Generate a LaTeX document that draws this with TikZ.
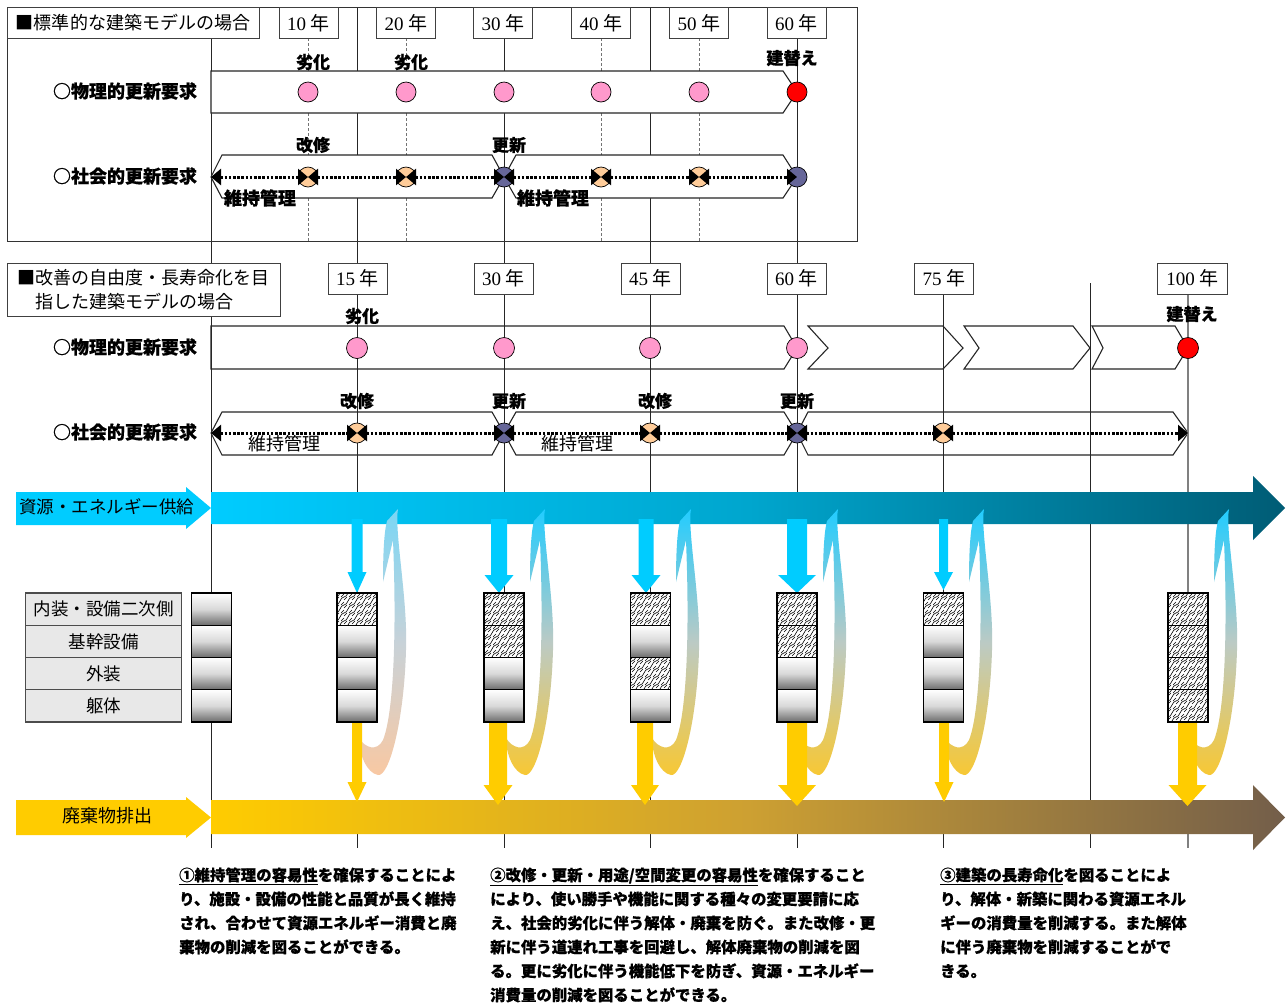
\documentclass[tikz,border=0pt]{standalone}
\usepackage{fontspec}
\setmainfont{Liberation Serif}
\newfontfamily\jp{Noto Sans CJK JP}[BoldFeatures={FakeBold=0.6}]
\usetikzlibrary{arrows.meta,patterns}
\definecolor{pinkc}{HTML}{FF99CC}
\definecolor{redc}{HTML}{FF0000}
\definecolor{orac}{HTML}{FFCC99}
\definecolor{bluc}{HTML}{666699}
\definecolor{cyac}{HTML}{00CCFF}
\definecolor{tealc}{HTML}{005C75}
\definecolor{tealm}{HTML}{00A6CE}
\definecolor{yelc}{HTML}{FFCC00}
\definecolor{yelm}{HTML}{CDA032}
\definecolor{brnc}{HTML}{735E4A}
\definecolor{rcTop}{HTML}{22CCFF}
\definecolor{rcMid}{HTML}{BCCAC4}
\definecolor{rcBot}{HTML}{F8C832}
\definecolor{rcTopA}{HTML}{7AD6F5}
\definecolor{rcMidA}{HTML}{C8D2D8}
\definecolor{rcBotA}{HTML}{F9C8A2}
\pgfdeclarepatternformonly{weave}{\pgfqpoint{-1pt}{-1pt}}{\pgfqpoint{9pt}{9pt}}{\pgfqpoint{8pt}{8pt}}{%
 \pgfsetlinewidth{0.6pt}%
 \pgfpathmoveto{\pgfqpoint{0pt}{0pt}}%
 \pgfpathcurveto{\pgfqpoint{4pt}{0pt}}{\pgfqpoint{4pt}{8pt}}{\pgfqpoint{8pt}{8pt}}%
 \pgfpathmoveto{\pgfqpoint{0pt}{5pt}}%
 \pgfpathcurveto{\pgfqpoint{1.5pt}{5pt}}{\pgfqpoint{1.5pt}{8pt}}{\pgfqpoint{3pt}{8pt}}%
 \pgfpathmoveto{\pgfqpoint{5pt}{0pt}}%
 \pgfpathcurveto{\pgfqpoint{6.5pt}{0pt}}{\pgfqpoint{6.5pt}{3pt}}{\pgfqpoint{8pt}{3pt}}%
 \pgfusepath{stroke}%
}
\newcommand\recyc[4]{%
\begin{scope}[shift={(#1,0)}]
\shade[top color=#2, bottom color=#4, middle color=#3]
 (41,509) .. controls (37,530) and (51,600) .. (49,650)
 .. controls (47,722) and (32,777) .. (21,775)
 .. controls (10,773) and (2,755) .. (2,738)
 .. controls (8,748) and (20,752) .. (26,740)
 .. controls (36,715) and (40,640) .. (36,540)
 -- (26,582) .. controls (26,555) and (27,532) .. (30,521) -- cycle;
\end{scope}}
\newcommand\varr[7]{%
 \fill[#1] ({#2-#6},#3) -- ({#2+#6},#3) -- ({#2+#6},#4) -- ({#2+#7},#4) -- (#2,#5) -- ({#2-#7},#4) -- ({#2-#6},#4) -- cycle;}
\newcommand\gcell[2]{\shadedraw[top color=white, bottom color=black!58, middle color=black!15, draw=black, line width=1.2pt] ({#1-20},#2) rectangle ({#1+20},{#2+32.25});}
\newcommand\hcell[2]{\fill[white] ({#1-20},#2) rectangle ({#1+20},{#2+32.25});
 \fill[pattern=weave] ({#1-20},#2) rectangle ({#1+20},{#2+32.25});
 \draw[black, line width=1.2pt] ({#1-20},#2) rectangle ({#1+20},{#2+32.25});}
\begin{document}
\begin{tikzpicture}[x=1pt,y=-1pt,
  band/.style={draw=black!85, line width=1.1pt, fill=white},
  vline/.style={black!85, line width=0.9pt},
  dline/.style={black!55, line width=0.9pt, dash pattern=on 3pt off 2pt},
  yrbox/.style={draw=black!75, line width=1pt, fill=white, minimum width=59pt, minimum height=31pt, inner sep=0pt, font=\fontsize{19}{20}\selectfont},
  lbox/.style={draw=black!75, line width=1pt, fill=white, inner sep=0pt, font=\jp\fontsize{18}{23.5}\selectfont},
  rowlab/.style={font=\jp\bfseries\fontsize{18}{20}\selectfont, inner sep=0pt},
  evlab/.style={font=\jp\bfseries\fontsize{17}{18}\selectfont, inner sep=0pt},
  ijlab/.style={font=\jp\fontsize{17.5}{20}\selectfont, inner sep=0pt},
  mk/.style={circle, draw=black, line width=0.7pt, minimum size=20pt, inner sep=0pt},
  dotarr/.style={line width=3pt, dash pattern=on 2.6pt off 1.6pt, {Triangle[length=10pt,width=16pt]}-{Triangle[length=10pt,width=16pt]}},
  legc/.style={draw=black!70, line width=1.2pt, fill=black!9, minimum width=156pt, minimum height=32.25pt, inner sep=0pt, font=\jp\fontsize{17.5}{20}\selectfont},
  btxt/.style={font=\jp\bfseries\fontsize{15.4}{16}\selectfont, anchor=base west, inner sep=0pt},
]
\useasboundingbox (0,0) rectangle (1287,1005);
\fill[white] (0,0) rectangle (1287,1005);

% lower bands (lines drawn over them)
\draw[band] (211,326) -- (784,326) -- (797,348) -- (784,369) -- (211,369) -- cycle;
\draw[band] (808,326) -- (943,326) -- (963,348) -- (943,369) -- (808,369) -- (828,348) -- cycle;
\draw[band] (964,326) -- (1073,326) -- (1090,348) -- (1073,369) -- (964,369) -- (979,348) -- cycle;
\draw[band] (1092,326) -- (1175,326) -- (1188,348) -- (1175,369) -- (1092,369) -- (1103,348) -- cycle;
\draw[band] (211,433) -- (222,412) -- (492,412) -- (504,433) -- (492,455) -- (222,455) -- cycle;
\draw[band] (504,433) -- (516,412) -- (784,412) -- (797,433) -- (784,455) -- (516,455) -- cycle;
\draw[band] (797,433) -- (808,412) -- (1173,412) -- (1188,433) -- (1173,455) -- (808,455) -- cycle;

% vertical lines
\foreach \x in {211,357,504,650,797} {\draw[vline] (\x,7) -- (\x,848);}
\draw[vline] (943,294) -- (943,848);
\draw[vline] (1090,283) -- (1090,848);
\draw[black!50, line width=1.5pt] (1188,294) -- (1188,848);
\foreach \x in {308,406,601,699} {\draw[dline] (\x,38) -- (\x,241);}

% top frame
\draw[black!80, line width=1pt] (7,7) rectangle (857,241);

% top bands
\draw[band] (211,71) -- (783,71) -- (797,92) -- (783,113) -- (211,113) -- cycle;
\draw[band] (211,177) -- (222,155) -- (492,155) -- (504,177) -- (492,198) -- (222,198) -- cycle;
\draw[band] (504,177) -- (516,155) -- (783,155) -- (797,177) -- (783,198) -- (516,198) -- cycle;

% boxes
\node[lbox, minimum width=252pt, minimum height=31pt] (lab1) at (133,22.5) {■標準的な建築モデルの場合};
\node[lbox, minimum width=273pt, minimum height=53pt, align=left] (lab2) at (143.5,289.5) {■改善の自由度・長寿命化を目\\\hspace*{1em}指した建築モデルの場合};
\node[yrbox] (ya10) at (308.5,23) {10 {\jp 年}};
\node[yrbox] (ya20) at (406,23) {20 {\jp 年}};
\node[yrbox] (ya30) at (503,23) {30 {\jp 年}};
\node[yrbox] (ya40) at (601,23) {40 {\jp 年}};
\node[yrbox] (ya50) at (699,23) {50 {\jp 年}};
\node[yrbox] (ya60) at (796.5,23) {60 {\jp 年}};
\node[yrbox] (yb15) at (357.5,278.5) {15 {\jp 年}};
\node[yrbox] (yb30) at (503.5,278.5) {30 {\jp 年}};
\node[yrbox] (yb45) at (650.5,278.5) {45 {\jp 年}};
\node[yrbox] (yb60) at (796.5,278.5) {60 {\jp 年}};
\node[yrbox] (yb75) at (944,278.5) {75 {\jp 年}};
\node[yrbox, minimum width=70pt] (yb100) at (1192.5,278.5) {100 {\jp 年}};

% row labels
\node[rowlab] (ra1) at (125,91) {○物理的更新要求};
\node[rowlab] (ra2) at (125,176) {○社会的更新要求};
\node[rowlab] (rb1) at (125,347) {○物理的更新要求};
\node[rowlab] (rb2) at (125,432) {○社会的更新要求};

% top markers
\node[mk, fill=pinkc] (tp1) at (308,92) {};
\node[mk, fill=pinkc] (tp2) at (406,92) {};
\node[mk, fill=pinkc] (tp3) at (504,92) {};
\node[mk, fill=pinkc] (tp4) at (601,92) {};
\node[mk, fill=pinkc] (tp5) at (699,92) {};
\node[mk, fill=redc] (tp6) at (797,92) {};
\coordinate (tsL) at (211,177);
\node[mk, fill=orac] (ts1) at (308,177) {};
\node[mk, fill=orac] (ts2) at (406,177) {};
\node[mk, fill=bluc] (ts3) at (504,177) {};
\node[mk, fill=orac] (ts4) at (601,177) {};
\node[mk, fill=orac] (ts5) at (699,177) {};
\node[mk, fill=bluc] (ts6) at (797,177) {};
\draw[dotarr] (tsL) -- (ts1.center);
\draw[dotarr] (ts1.center) -- (ts2.center);
\draw[dotarr] (ts2.center) -- (ts3.center);
\draw[dotarr] (ts3.center) -- (ts4.center);
\draw[dotarr] (ts4.center) -- (ts5.center);
\draw[dotarr] (ts5.center) -- (ts6.center);

% lower markers
\node[mk, fill=pinkc, minimum size=21pt] (bp1) at (357,348) {};
\node[mk, fill=pinkc, minimum size=21pt] (bp2) at (504,348) {};
\node[mk, fill=pinkc, minimum size=21pt] (bp3) at (650,348) {};
\node[mk, fill=pinkc, minimum size=21pt] (bp4) at (797,348) {};
\node[mk, fill=redc, minimum size=21pt] (bp5) at (1188,348) {};
\coordinate (bsL) at (211,433);
\coordinate (bsR) at (1188,433);
\node[mk, fill=orac] (bs1) at (357,433) {};
\node[mk, fill=bluc] (bs2) at (504,433) {};
\node[mk, fill=orac] (bs3) at (650,433) {};
\node[mk, fill=bluc] (bs4) at (797,433) {};
\node[mk, fill=orac] (bs5) at (943,433) {};
\draw[dotarr] (bsL) -- (bs1.center);
\draw[dotarr] (bs1.center) -- (bs2.center);
\draw[dotarr] (bs2.center) -- (bs3.center);
\draw[dotarr] (bs3.center) -- (bs4.center);
\draw[dotarr] (bs4.center) -- (bs5.center);
\draw[dotarr] (bs5.center) -- (bsR);

% event labels
\node[evlab] (e1) at (313,62) {劣化};
\node[evlab] (e2) at (411,62) {劣化};
\node[evlab] (e3) at (792,58) {建替え};
\node[evlab] (e4) at (313,145) {改修};
\node[evlab] (e5) at (509,145) {更新};
\node[evlab, font=\jp\bfseries\fontsize{18}{20}\selectfont] (e6) at (260,198) {維持管理};
\node[evlab, font=\jp\bfseries\fontsize{18}{20}\selectfont] (e7) at (553,198) {維持管理};
\node[evlab] (f1) at (362,316) {劣化};
\node[evlab] (f2) at (1192,314) {建替え};
\node[evlab] (f3) at (357,401) {改修};
\node[evlab] (f4) at (509,401) {更新};
\node[evlab] (f5) at (655,401) {改修};
\node[evlab] (f6) at (797,401) {更新};
\node[ijlab, font=\jp\fontsize{18}{20}\selectfont] (f7) at (284,444) {維持管理};
\node[ijlab, font=\jp\fontsize{18}{20}\selectfont] (f8) at (577,444) {維持管理};

% supply and waste bands
\shade[left color=cyac, right color=tealc, middle color=tealm] (211,492) -- (1253,492) -- (1253,476) -- (1285,508) -- (1253,540) -- (1253,524) -- (211,524) -- cycle;
\shade[left color=yelc, right color=brnc, middle color=yelm] (211,800) -- (1253,800) -- (1253,785) -- (1285,817.5) -- (1253,850) -- (1253,834) -- (211,834) -- cycle;
\fill[cyac] (16,492) -- (186,492) -- (186,487) -- (211,508) -- (186,529) -- (186,525) -- (16,525) -- cycle;
\node[ijlab] (supl) at (107,507) {資源・エネルギー供給};
\fill[yelc] (16,800) -- (186,800) -- (186,797) -- (211,817.5) -- (186,838) -- (186,835) -- (16,835) -- cycle;
\node[ijlab, font=\jp\fontsize{18}{20}\selectfont] (wstl) at (107,816) {廃棄物排出};

% recycling arrows
\recyc{357}{rcTopA}{rcMidA}{rcBotA}
\recyc{504}{rcTop}{rcMid}{rcBot}
\recyc{650}{rcTop}{rcMid}{rcBot}
\recyc{797}{rcTop}{rcMid}{rcBot}
\recyc{943}{rcTop}{rcMid}{rcBot}
\recyc{1188}{rcTop}{rcMid}{rcBot}

% input arrows
\varr{cyac}{357}{519}{572}{593}{5.5}{9.5}
\varr{cyac}{499}{519}{575}{593}{8}{14.5}
\varr{cyac}{646}{519}{575}{593}{7.5}{14.5}
\varr{cyac}{797}{519}{575}{593}{10}{19}
\varr{cyac}{943.5}{519}{572}{590}{4.5}{9.5}
% output arrows
\varr{yelc}{357}{722}{782}{802}{5}{9.5}
\varr{yelc}{498}{722}{785}{805}{9}{14.5}
\varr{yelc}{645}{722}{785}{805}{8}{14}
\varr{yelc}{797}{722}{785}{806}{10}{19}
\varr{yelc}{944}{722}{782}{802}{5}{9.5}
\varr{yelc}{1187.5}{722}{785}{806}{9.5}{19}

% legend
\node[legc] (lg1) at (103.7,609.1) {内装・設備二次側};
\node[legc] (lg2) at (103.7,641.4) {基幹設備};
\node[legc] (lg3) at (103.7,673.6) {外装};
\node[legc] (lg4) at (103.7,705.9) {躯体};

% stacks
\gcell{211.5}{593}\gcell{211.5}{625.25}\gcell{211.5}{657.5}\gcell{211.5}{689.75}
\hcell{357}{593}\gcell{357}{625.25}\gcell{357}{657.5}\gcell{357}{689.75}
\hcell{504}{593}\hcell{504}{625.25}\gcell{504}{657.5}\gcell{504}{689.75}
\hcell{650.5}{593}\gcell{650.5}{625.25}\hcell{650.5}{657.5}\gcell{650.5}{689.75}
\hcell{797}{593}\hcell{797}{625.25}\gcell{797}{657.5}\gcell{797}{689.75}
\hcell{943.5}{593}\gcell{943.5}{625.25}\gcell{943.5}{657.5}\gcell{943.5}{689.75}
\hcell{1188}{593}\hcell{1188}{625.25}\hcell{1188}{657.5}\hcell{1188}{689.75}

% text blocks
\node[btxt] (a1) at (179,880.8) {\underline{①維持管理の容易性}を確保することによ};
\node[btxt] (a2) at (179,904.8) {り、施設・設備の性能と品質が長く維持};
\node[btxt] (a3) at (179,928.8) {され、合わせて資源エネルギー消費と廃};
\node[btxt] (a4) at (179,952.8) {棄物の削減を図ることができる。};
\node[btxt] (b1) at (490,880.8) {\underline{②改修・更新・用途/空間変更の容易性}を確保すること};
\node[btxt] (b2) at (490,904.8) {により、使い勝手や機能に関する種々の変更要請に応};
\node[btxt] (b3) at (490,928.8) {え、社会的劣化に伴う解体・廃棄を防ぐ。また改修・更};
\node[btxt] (b4) at (490,952.8) {新に伴う道連れ工事を回避し、解体廃棄物の削減を図};
\node[btxt] (b5) at (490,976.8) {る。更に劣化に伴う機能低下を防ぎ、資源・エネルギー};
\node[btxt] (b6) at (490,1000.8) {消費量の削減を図ることができる。};
\node[btxt] (c1) at (940,880.8) {\underline{③建築の長寿命化}を図ることによ};
\node[btxt] (c2) at (940,904.8) {り、解体・新築に関わる資源エネル};
\node[btxt] (c3) at (940,928.8) {ギーの消費量を削減する。また解体};
\node[btxt] (c4) at (940,952.8) {に伴う廃棄物を削減することがで};
\node[btxt] (c5) at (940,976.8) {きる。};
\end{tikzpicture}
\end{document}
